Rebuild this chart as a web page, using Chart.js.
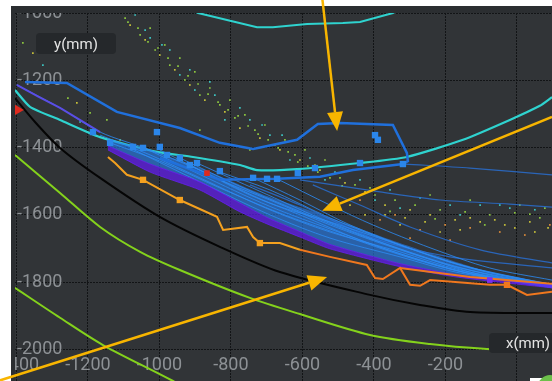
<!DOCTYPE html>
<html>
<head>
<meta charset="utf-8">
<script src="https://cdn.jsdelivr.net/npm/chart.js@4.4.1/dist/chart.umd.min.js"></script>
<style>
  html, body { margin: 0; padding: 0; background: #fff; width: 552px; height: 381px; overflow: hidden; }
  #panel { position: absolute; left: 11px; top: 6px; width: 541px; height: 375px; background: #2b2e31; }
  #c { position: absolute; left: 0; top: 0; }
  .tag { position: absolute; background: #25282b; color: #e4e4e4; font: 15px Roboto, "Noto Sans", sans-serif;
         border-radius: 4px; display: flex; align-items: center; justify-content: center; }
  #ytag { left: 36px; top: 33px; width: 80px; height: 21px; }
  #xtag { left: 489px; top: 333px; width: 78px; height: 20px; }
  #corner { position: absolute; left: 530px; top: 378px; width: 22px; height: 3px; background: #fff; }
  #dot { position: absolute; left: 538px; top: 375px; width: 24px; height: 24px; border-radius: 50%; background: #6cc04a; }
</style>
</head>
<body>
<div id="panel"></div>
<canvas id="c" width="552" height="381"></canvas>
<div class="tag" id="ytag">y(mm)</div>
<div class="tag" id="xtag">x(mm)</div>
<div id="corner"></div>
<div id="dot"></div>
<script>
// ---- axis ranges and ticks (mm) ----
const xRange = [-1404, 98];
const yRange = [-2094, -1000];
const xTicks = [-1400, -1200, -1000, -800, -600, -400, -200, 0];
const yTicks = [-2000, -1800, -1600, -1400, -1200, -1000];
const xTickLabels = ['-1400', '-1200', '-1000', '-800', '-600', '-400', '-200', ''];
const yTickLabels = ['-2000', '-1800', '-1600', '-1400', '-1200', '-1000'];

// ---- trajectories (x mm, y mm) ----
const cyanOuter = [[-943,-976],[-892,-1000],[-727,-1042],[-683,-1042],[-587,-1033],[-487,-1030],[-439,-1027],[-347,-1000],[-299,-976]];
const cyanInner = [[-1404,-1229],[-1362,-1279],[-1278,-1318],[-1166,-1369],[-1007,-1413],[-906,-1428],[-775,-1452],[-727,-1467],[-615,-1464],[-439,-1446],[-308,-1428],[-151,-1377],[-20,-1318],[64,-1276],[98,-1250]];
const blackCurve = [[-1404,-1253],[-1348,-1324],[-1278,-1401],[-1166,-1490],[-999,-1606],[-831,-1695],[-663,-1770],[-411,-1838],[-271,-1868],[-131,-1889],[98,-1892]];
const greenUpper = [[-1404,-1422],[-1278,-1535],[-1166,-1636],[-1054,-1710],[-943,-1764],[-747,-1847],[-607,-1895],[-411,-1957],[-243,-1984],[-84,-1999],[8,-2002]];
const greenLower = [[-1404,-1817],[-1278,-1906],[-1158,-1987],[-962,-2094],[-915,-2126]];
const bluePath = [[-1376,-1205],[-1259,-1208],[-1119,-1294],[-943,-1342],[-831,-1386],[-738,-1404],[-615,-1377],[-557,-1330],[-495,-1327],[-347,-1333],[-308,-1416],[-305,-1440],[-319,-1449],[-459,-1467],[-551,-1487],[-671,-1493],[-831,-1496],[-999,-1431]];
const violetLead = [[-1399,-1214],[-1340,-1248],[-1278,-1282],[-1166,-1354]];

// fan of planned paths converging to the lower right
const fanPaths = [
  [[-1399,-1214],[-1278,-1282],[-1166,-1354],[-1026,-1407],[-887,-1467],[-691,-1565],[-523,-1621],[-327,-1690],[-159,-1749],[98,-1808]],
  [[-1166,-1363],[-1026,-1422],[-887,-1490],[-691,-1585],[-523,-1651],[-327,-1710],[-159,-1764],[98,-1814]],
  [[-1082,-1401],[-887,-1502],[-691,-1600],[-523,-1669],[-327,-1725],[-159,-1773],[98,-1814]],
  [[-999,-1407],[-831,-1496],[-691,-1556],[-523,-1630],[-327,-1704],[-159,-1758],[98,-1811]],
  [[-915,-1452],[-747,-1541],[-607,-1600],[-439,-1675],[-271,-1734],[-103,-1782],[98,-1817]],
  [[-831,-1473],[-691,-1526],[-523,-1609],[-327,-1690],[-131,-1758],[98,-1811]],
  [[-738,-1490],[-607,-1556],[-467,-1630],[-271,-1710],[-103,-1764],[98,-1808]],
  [[-671,-1493],[-523,-1571],[-403,-1630],[-243,-1698],[-76,-1758],[98,-1794]],
  [[-1054,-1395],[-887,-1480],[-691,-1575],[-523,-1642],[-327,-1716],[-159,-1768],[98,-1815]],
  [[-943,-1431],[-775,-1515],[-607,-1590],[-439,-1660],[-271,-1722],[-103,-1778],[98,-1816]],
  [[-1138,-1386],[-999,-1440],[-831,-1520],[-663,-1595],[-495,-1658],[-299,-1728],[-131,-1775],[98,-1812]],
  [[-895,-1446],[-719,-1530],[-551,-1610],[-383,-1680],[-215,-1740],[-48,-1785],[98,-1806]]
];
const upperPaths = [
  [[-313,-1449],[-131,-1461],[98,-1481]],
  [[-607,-1496],[-383,-1532],[-215,-1556],[-20,-1568],[98,-1577]],
  [[-571,-1511],[-439,-1571],[-299,-1636],[-103,-1704],[98,-1743]],
  [[-747,-1511],[-607,-1571],[-403,-1669],[-187,-1725],[98,-1758]]
];

// dense band under the fan (shared x, three y edges)
const bandX      = [-1144,-1026,-887,-775,-699,-607,-523,-336,-187,-76,98];
const fanTopY    = [-1377,-1407,-1461,-1511,-1544,-1577,-1609,-1681,-1734,-1770,-1805];
const purpleTopY = [-1395,-1449,-1502,-1565,-1608,-1650,-1688,-1743,-1775,-1792,-1809];
const purpleBotY = [-1407,-1473,-1526,-1591,-1627,-1666,-1701,-1752,-1782,-1797,-1817];

// executed path
const orangeLeft  = [[-1144,-1428],[-1124,-1446],[-1091,-1481],[-1046,-1496],[-943,-1556],[-839,-1606],[-822,-1645],[-755,-1636],[-738,-1666],[-719,-1684],[-663,-1684],[-607,-1704]];
const orangeRight = [[-607,-1704],[-523,-1725],[-420,-1749],[-397,-1788],[-375,-1791],[-327,-1758],[-299,-1808],[-271,-1811],[-243,-1794],[-76,-1808],[-28,-1808],[28,-1838],[98,-1829]];
const orangeBranch = [[-327,-1758],[-131,-1785],[98,-1805]];

// markers
const blueMarks = [[-1186,-1354],[-1007,-1354],[-1138,-1386],[-1074,-1398],[-1046,-1401],[-999,-1398],[-979,-1422],[-943,-1431],[-915,-1452],[-895,-1446],[-831,-1470],[-738,-1490],[-699,-1493],[-671,-1493],[-613,-1476],[-565,-1461],[-439,-1446],[-397,-1363],[-389,-1377],[-319,-1449]];
const goldMarks = [[-1046,-1496],[-943,-1556],[-719,-1684]];
const orangeMarks = [[-28,-1808]];
const purpleMarks = [[-76,-1794]];
const redFlag = [[-1396,-1288]];
const redMarks = [[-867,-1476]];

// point cloud
const dotsGreen = [[-1096,-1015],[-1054,-1065],[-1026,-1045],[-1012,-1110],[-985,-1095],[-971,-1155],[-943,-1134],[-929,-1199],[-901,-1175],[-887,-1244],[-859,-1223],[-831,-1273],[-803,-1259],[-789,-1312],[-761,-1303],[-733,-1348],[-705,-1333],[-677,-1392],[-649,-1377],[-621,-1422],[-593,-1407],[-565,-1452],[-537,-1437],[-495,-1490],[-453,-1511],[-397,-1541],[-341,-1556],[-285,-1571],[-215,-1585],[-145,-1591],[-76,-1600],[-6,-1594],[64,-1609],[-1382,-1089],[-1256,-1253],[-1194,-1297],[-1147,-1318],[-1110,-1377],[-887,-1348],[-747,-1407],
  [-1088,-1027],[-1060,-1045],[-1032,-1086],[-1004,-1104],[-976,-1134],[-948,-1158],[-920,-1187],[-892,-1211],[-864,-1241],[-836,-1265],[-808,-1288],[-780,-1306],[-752,-1336],[-724,-1360],[-696,-1377],[-668,-1401],[-640,-1413],[-613,-1443],[-585,-1455],[-557,-1473],[-523,-1490],[-489,-1514],[-411,-1520],[-243,-1541],[-131,-1556],[8,-1571],[78,-1580],
  [-355,-1590],[-229,-1612],[-90,-1630],[36,-1598]];
const dotsYellow = [[-1082,-1036],[-1040,-1080],[-999,-1125],[-957,-1169],[-915,-1214],[-873,-1259],[-817,-1294],[-775,-1342],[-719,-1372],[-663,-1407],[-607,-1437],[-551,-1467],[-481,-1505],[-425,-1532],[-369,-1571],[-299,-1585],[-243,-1600],[-173,-1615],[-103,-1621],[-34,-1630],[36,-1621],[87,-1639],[-1354,-1119],[-1231,-1267],[-327,-1630],[-159,-1645],
  [-369,-1600],[-313,-1609],[-257,-1621],[-215,-1651],[-131,-1609],[-62,-1615],[-6,-1639],[50,-1651],[-467,-1571],[-425,-1600]];
const dotsCyan = [[-1068,-1006],[-1026,-1074],[-971,-1110],[-943,-1184],[-901,-1229],[-845,-1244],[-817,-1318],[-747,-1318],[-691,-1363],[-635,-1437],[-579,-1431],[-509,-1473],[-439,-1496],[-355,-1526],[-271,-1550],[-187,-1571],[-103,-1571],[-20,-1580],[50,-1585],[-1326,-1155],[-1222,-1324],
  [-1040,-1051],[-993,-1095],[-915,-1169],[-859,-1205],[-775,-1282],[-713,-1333],[-657,-1363],[-537,-1496],[-397,-1556],[-327,-1580],[-159,-1600],[-48,-1571]];
const dotsOrange = [[-439,-1556],[-341,-1600],[-271,-1645],[-201,-1630],[-131,-1639],[-48,-1651],[22,-1660],[-383,-1615],[-299,-1669],[92,-1630],[-187,-1675]];

// callout arrows (tail -> head, mm)
const arrowFrom = [[-545,-952],[98,-1309],[-1460,-2097]];
const arrowTo   = [[-503,-1351],[-545,-1588],[-531,-1785]];

// ---- helpers ----
const P = a => a.map(([x, y]) => ({x, y}));
const zip = (xs, ys) => xs.map((x, i) => [x, ys[i]]);
function path(data, color, width, order, extra) {
  return Object.assign({ data: P(data), showLine: true, borderColor: color, borderWidth: width,
    pointRadius: 0, pointHoverRadius: 0, fill: false, tension: 0, order }, extra || {});
}
function marks(data, color, size, order, style, rotation) {
  return { data: P(data), showLine: false, pointStyle: style || 'rect', rotation: rotation || 0,
    pointRadius: size, pointHoverRadius: size, backgroundColor: color, borderColor: color, borderWidth: 0, order };
}

const datasets = [
  path(zip(bandX, fanTopY), 'rgba(0,0,0,0)', 0, 60, { fill: '+1', backgroundColor: 'rgba(38,126,238,0.62)', tension: 0.2 }),
  path(zip(bandX, purpleTopY), 'rgba(104,32,242,0.8)', 1, 50, { fill: '+1', backgroundColor: 'rgba(98,28,240,0.72)', tension: 0.2 }),
  path(zip(bandX, purpleBotY), 'rgba(104,32,242,0.8)', 1, 50, { tension: 0.2 }),
  marks(dotsGreen, '#8cc63f', 1.2, 90),
  marks(dotsYellow, '#c6c03a', 1.2, 90),
  marks(dotsCyan, '#3cc3c0', 1.2, 90),
  marks(dotsOrange, '#d98a3a', 1.2, 90),
  path(greenUpper, '#84d21c', 2, 80, { tension: 0.3 }),
  path(greenLower, '#84d21c', 2, 80, { tension: 0.3 }),
  path(blackCurve, '#050505', 2, 75, { tension: 0.3 }),
  path(cyanOuter, '#2fd3cf', 2, 70),
  path(cyanInner, '#2fd3cf', 2.2, 70, { tension: 0.2 }),
  ...fanPaths.map(p => path(p, 'rgba(44,140,246,0.8)', 1, 55, { tension: 0.3 })),
  ...upperPaths.map(p => path(p, 'rgba(40,118,228,0.75)', 1.2, 55, { tension: 0.3 })),
  path(violetLead, '#5a4ee6', 2, 45),
  path(orangeLeft, '#f4a11f', 2, 40),
  path(orangeRight, '#f0781e', 2, 40),
  path(orangeBranch, '#f0781e', 2, 40),
  path(bluePath, '#2070dc', 2.5, 30),
  marks(blueMarks, '#2b86ea', 4.5, 20),
  marks(goldMarks, '#f4a11f', 4.5, 19),
  marks(orangeMarks, '#f0781e', 4.5, 19),
  marks(purpleMarks, '#7a2cf0', 4, 19),
  marks(redFlag, '#e02a1e', 6, 10, 'triangle', 90),
  marks(redMarks, '#e02a1e', 4, 10)
];

const TICK_COLOR = '#8d9195';
const TICK_FONT = '18px Roboto, "Noto Sans", sans-serif';

// panel fill, clipping to the plot area, in-plot tick labels, arrows on top
const frame = {
  id: 'frame',
  beforeDraw(chart) {
    const { ctx, chartArea: a } = chart;
    ctx.save();
    ctx.fillStyle = '#313437';
    ctx.fillRect(a.left, a.top, a.right - a.left, a.bottom - a.top);
    ctx.beginPath();
    ctx.rect(a.left, a.top, a.right - a.left, a.bottom - a.top);
    ctx.clip();
  },
  beforeDatasetsDraw(chart) {
    const { ctx, chartArea: a } = chart;
    const xs = chart.scales.x, ys = chart.scales.y;
    ctx.save();
    ctx.fillStyle = TICK_COLOR;
    ctx.font = TICK_FONT;
    ctx.textBaseline = 'middle';
    ctx.textAlign = 'left';
    ys.ticks.forEach(t => ctx.fillText(yTickLabels[yTicks.indexOf(t.value)], a.left + 2, ys.getPixelForValue(t.value)));
    ctx.textAlign = 'center';
    xs.ticks.forEach(t => ctx.fillText(xTickLabels[xTicks.indexOf(t.value)], xs.getPixelForValue(t.value), a.bottom - 16));
    ctx.restore();
  },
  afterDraw(chart) {
    const { ctx } = chart;
    ctx.restore();
    const xs = chart.scales.x, ys = chart.scales.y;
    ctx.save();
    ctx.strokeStyle = ctx.fillStyle = '#f8b500';
    ctx.lineWidth = 2.5;
    arrowFrom.forEach((from, i) => {
      const x0 = xs.getPixelForValue(from[0]), y0 = ys.getPixelForValue(from[1]);
      const x1 = xs.getPixelForValue(arrowTo[i][0]), y1 = ys.getPixelForValue(arrowTo[i][1]);
      const ang = Math.atan2(y1 - y0, x1 - x0);
      const L = 19, W = 8;
      const bx = x1 - L * Math.cos(ang), by = y1 - L * Math.sin(ang);
      ctx.beginPath(); ctx.moveTo(x0, y0); ctx.lineTo(bx, by); ctx.stroke();
      ctx.beginPath();
      ctx.moveTo(x1, y1);
      ctx.lineTo(bx + W * Math.sin(ang), by - W * Math.cos(ang));
      ctx.lineTo(bx - W * Math.sin(ang), by + W * Math.cos(ang));
      ctx.closePath(); ctx.fill();
    });
    ctx.restore();
  }
};

const gridOpts = { color: '#121416', lineWidth: 1, drawTicks: false, tickLength: 0 };

new Chart(document.getElementById('c'), {
  type: 'scatter',
  data: { datasets },
  plugins: [frame],
  options: {
    responsive: false,
    animation: false,
    events: [],
    layout: { autoPadding: false, padding: { left: 15, top: 13, right: 0, bottom: 0 } },
    plugins: { legend: { display: false }, tooltip: { enabled: false } },
    scales: {
      x: {
        type: 'linear', position: 'bottom', min: xRange[0], max: xRange[1],
        afterBuildTicks(s) { s.ticks = xTicks.map(v => ({ value: v })); },
        afterFit(s) { s.height = 0; s.paddingLeft = 0; s.paddingRight = 0; },
        grid: gridOpts,
        border: { display: false, dash: [2, 1] },
        ticks: { display: false }
      },
      y: {
        type: 'linear', position: 'left', min: yRange[0], max: yRange[1],
        afterBuildTicks(s) { s.ticks = yTicks.map(v => ({ value: v })); },
        afterFit(s) { s.width = 0; s.paddingTop = 0; s.paddingBottom = 0; },
        grid: gridOpts,
        border: { display: false, dash: [2, 1] },
        ticks: { display: false }
      }
    }
  }
});
</script>
</body>
</html>
